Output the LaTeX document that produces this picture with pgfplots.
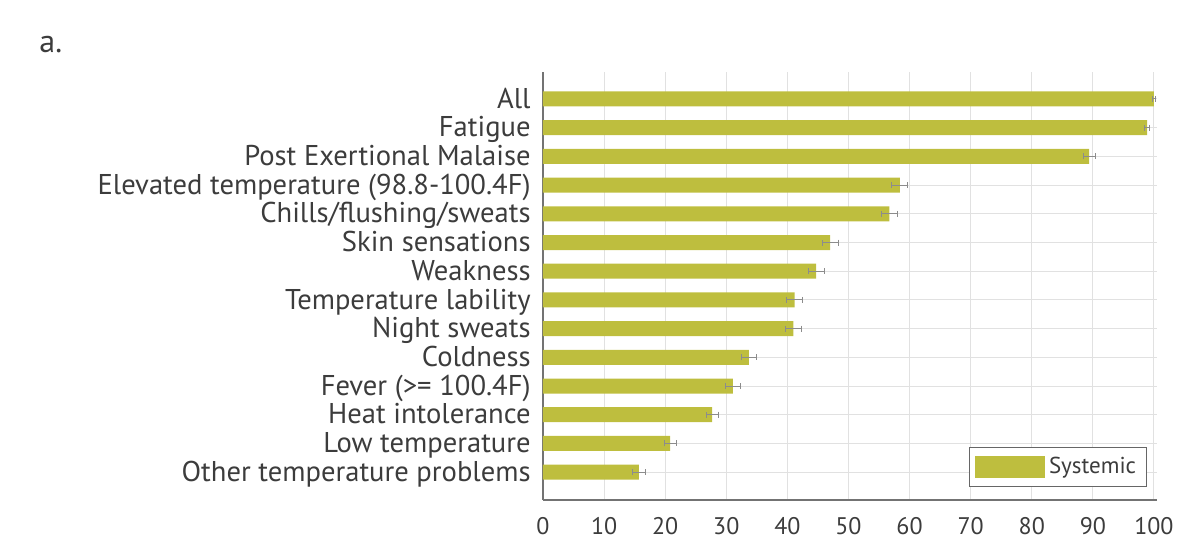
\documentclass[border=0pt]{standalone}
\usepackage{fontspec}
\setmainfont{PT Sans}
\usepackage{pgfplots}
\pgfplotsset{compat=1.18}
\definecolor{barc}{RGB}{190,190,62}
\definecolor{txt}{RGB}{60,60,60}
\definecolor{gridc}{RGB}{225,225,225}
\begin{document}
\begin{tikzpicture}
\path[use as bounding box] (-271.5pt,-25pt) rectangle (328.5pt,250pt);
\node[anchor=north west,font=\fontsize{16}{18}\selectfont,text=txt,inner sep=0pt] at (-252pt,232pt) {a.};
\begin{axis}[
  scale only axis,
  width=307pt, height=214pt,
  xmin=0, xmax=100.5,
  ymin=-0.97, ymax=13.94,
  axis x line*=bottom, axis y line*=left,
  axis line style={draw=black!55, line width=0.8pt},
  xtick={0,10,...,100},
  ytick={0,...,13},
  yticklabels={Other temperature problems,Low temperature,Heat intolerance,Fever (>= 100.4F),Coldness,Night sweats,Temperature lability,Weakness,Skin sensations,Chills/flushing/sweats,Elevated temperature (98.8-100.4F),Post Exertional Malaise,Fatigue,All},
  major tick length=0pt,
  xmajorgrids, ymajorgrids,
  grid style={draw=gridc, line width=0.5pt},
  tick label style={text=txt},
  yticklabel style={font=\fontsize{14.3}{16}\selectfont, inner ysep=0pt, inner xsep=3pt, text height=1.7ex, text depth=0.35ex, xshift=-3pt, yshift=-1.2pt},
  xticklabel style={font=\fontsize{12}{14}\selectfont, yshift=-5pt},
  /pgf/number format/assume math mode=true,
  xbar, bar width=7.5pt,
  legend style={at={(0.983,0.03)}, anchor=south east, draw=black!60, line width=0.5pt, font=\fontsize{11.5}{13}\selectfont, text=txt, inner xsep=3pt, inner ysep=3pt},
  legend image code/.code={\fill[barc] (0pt,-5.5pt) rectangle (35pt,5.5pt);},
]
\addplot[fill=barc, draw=none,
  error bars/.cd, x dir=both, x explicit,
  error bar style={draw=black!45, line width=0.5pt},
  error mark options={draw=black!45, mark size=1.5pt, rotate=90}]
coordinates {
(15.7,0) +- (1.0,0)
(20.8,1) +- (1.0,0)
(27.7,2) +- (1.0,0)
(31.1,3) +- (1.2,0)
(33.7,4) +- (1.2,0)
(41.0,5) +- (1.3,0)
(41.2,6) +- (1.3,0)
(44.7,7) +- (1.3,0)
(47.0,8) +- (1.3,0)
(56.7,9) +- (1.3,0)
(58.4,10) +- (1.3,0)
(89.4,11) +- (1.0,0)
(98.9,12) +- (0.4,0)
(100,13) +- (0.2,0)
};
\addlegendentry{Systemic}
\end{axis}
\end{tikzpicture}
\end{document}
